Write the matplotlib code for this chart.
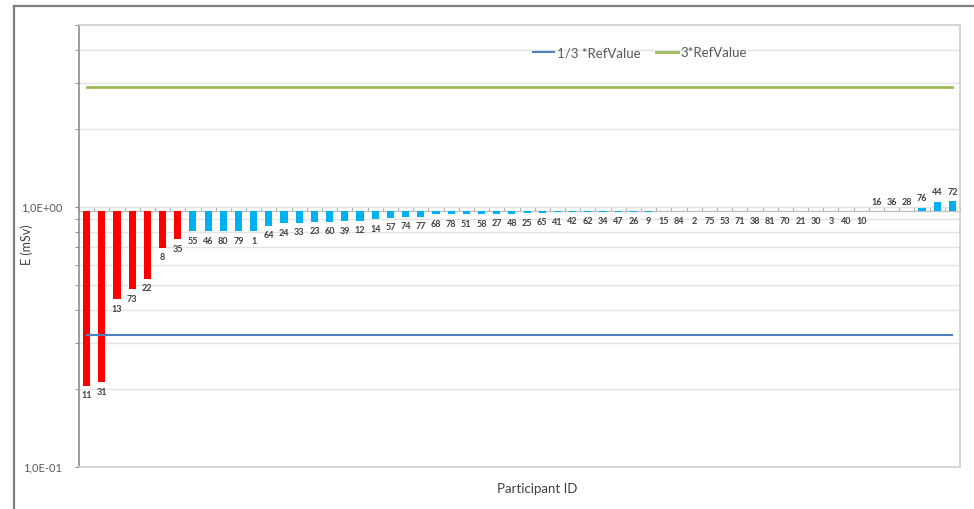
import numpy as np
import matplotlib
matplotlib.use("Agg")
import matplotlib.pyplot as plt
from matplotlib.lines import Line2D
from matplotlib.ticker import FixedLocator, NullFormatter

plt.rcParams['font.family'] = ['Lato', 'DejaVu Sans']

# ---- data ----
participant_ids = [11, 31, 13, 73, 22, 8, 35, 55, 46, 80, 79, 1, 64, 24, 33, 23, 60, 39, 12, 14,
                   57, 74, 77, 68, 78, 51, 58, 27, 48, 25, 65, 41, 42, 62, 34, 47, 26, 9, 15, 84,
                   2, 75, 53, 71, 38, 81, 70, 21, 30, 3, 40, 10, 16, 36, 28, 76, 44, 72]
e_values = [0.205, 0.212, 0.442, 0.482, 0.530, 0.697, 0.751, 0.804, 0.804, 0.804, 0.806, 0.806,
            0.845, 0.866, 0.868, 0.877, 0.877, 0.881, 0.884, 0.897, 0.909, 0.918, 0.916, 0.937,
            0.937, 0.937, 0.938, 0.940, 0.942, 0.946, 0.948, 0.954, 0.957, 0.957, 0.958, 0.958,
            0.959, 0.959, 0.960, 0.960, 0.960, 0.960, 0.961, 0.961, 0.961, 0.961, 0.962, 0.962,
            0.962, 0.962, 0.962, 0.962, 0.966, 0.966, 0.966, 0.993, 1.048, 1.050]
outlier_flags = [1, 1, 1, 1, 1, 1, 1] + [0] * 51
ref_value = 0.963
lower_factor = 1 / 3
upper_factor = 3
ytick_labels = ["1,0E-01", "1,0E+00"]

# ---- figure ----
W, H = 974, 509
fig = plt.figure(figsize=(W / 100, H / 100), dpi=100)
ax = fig.add_axes([79 / W, 1 - 467 / H, (960 - 79) / W, (467 - 25) / H])

n = len(participant_ids)
x = np.arange(n)
vals = np.array(e_values)
colors = ['#FF0000' if f else '#00B0F0' for f in outlier_flags]
ax.bar(x, vals - ref_value, bottom=ref_value, width=0.47, color=colors, zorder=3)

ax.set_yscale('log')
ax.set_ylim(0.1, 5)
ax.set_xlim(-0.5, n - 0.5)

# reference lines
l1, = ax.plot([x[0], x[-1]], [ref_value * lower_factor] * 2, color='#4F81BD', lw=1.5, zorder=4,
              label='1/3 *RefValue')
l2, = ax.plot([x[0], x[-1]], [ref_value * upper_factor] * 2, color='#9BBB59', lw=2.0, zorder=4,
              label='3*RefValue')

# y axis ticks & grid
ax.yaxis.set_major_locator(FixedLocator([0.1, 1.0]))
ax.set_yticklabels(ytick_labels)
minor = [0.2, 0.3, 0.4, 0.5, 0.6, 0.7, 0.8, 0.9, 2, 3, 4, 5]
ax.yaxis.set_minor_locator(FixedLocator(minor))
ax.yaxis.set_minor_formatter(NullFormatter())
ax.tick_params(axis='y', which='both', direction='out', length=3, color='#868686',
               labelsize=8, labelcolor='#595959', pad=9)
ax.grid(True, axis='y', which='both', color='#E3E3E3', lw=1, zorder=0)
ax.set_xticks([])

for s in ['top', 'right', 'bottom']:
    ax.spines[s].set_color('#D0D0D0')
    ax.spines[s].set_linewidth(1.2)
ax.spines['left'].set_color('#8C8C8C')
ax.spines['left'].set_linewidth(1.2)

# horizontal category axis crossing at ref value
loc = (np.log10(ref_value) - np.log10(0.1)) / (np.log10(5) - np.log10(0.1))
sec = ax.secondary_xaxis(loc)
sec.set_xticks(np.arange(n + 1) - 0.5)
sec.set_xticklabels([])
sec.tick_params(direction='out', length=3, color='#B0B0B0', width=0.8)
for sp in sec.spines.values():
    sp.set_color('#C0C0C0')
    sp.set_linewidth(1.0)

# data labels
for xi, v, pid in zip(x, vals, participant_ids):
    if v < ref_value:
        ax.annotate(str(pid), (xi, v), xytext=(0, -4), textcoords='offset points',
                    ha='center', va='top', fontsize=6.5, fontweight='bold', color='#404040', zorder=5)
    else:
        ax.annotate(str(pid), (xi, v), xytext=(0, 3), textcoords='offset points',
                    ha='center', va='bottom', fontsize=6.5, fontweight='bold', color='#404040', zorder=5)

# legend
fig.legend(handles=[l1, l2], loc='center', bbox_to_anchor=(640 / W, 1 - 53 / H), ncol=2,
           frameon=False, fontsize=9.5, handlelength=1.6, columnspacing=1.2, handletextpad=0.2,
           labelcolor='#595959')

# axis titles
fig.text(27 / W, 1 - 245 / H, 'E (mSv)', rotation=90, ha='center', va='center',
         fontsize=9, color='#404040')
fig.text(537 / W, 1 - 489 / H, 'Participant ID', ha='center', va='center',
         fontsize=9.5, color='#404040')

# outer chart frame (clipped by the image)
fig.add_artist(Line2D([14 / W, 1], [1 - 6 / H, 1 - 6 / H], color='#7F7F7F', lw=1.6))
fig.add_artist(Line2D([14 / W, 14 / W], [1 - 6 / H, 0], color='#7F7F7F', lw=1.6))

fig.savefig('out.png', dpi=100)
